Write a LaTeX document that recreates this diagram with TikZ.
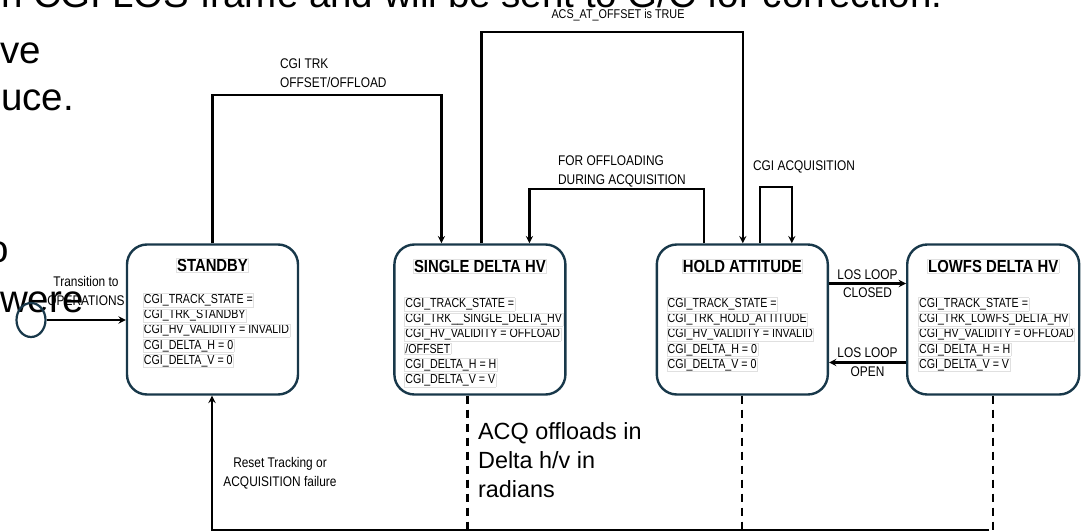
\documentclass[tikz,border=0pt]{standalone}
\usepackage{fontspec}
\setmainfont{Liberation Sans}
\newfontfamily\narrowfont{Liberation Sans}[FakeStretch=0.85]
\newfontfamily\bodyfont{Liberation Sans}[FakeStretch=0.82]
\usepackage{xcolor}
\usetikzlibrary{positioning,shapes,arrows,calc}
\definecolor{boxline}{RGB}{24,56,74}
\newcommand{\fld}[1]{{\setlength{\fboxsep}{0.6pt}\setlength{\fboxrule}{0.4pt}\fcolorbox{black!12}{white}{#1}}}
\tikzset{%
	state/.style   = {draw=boxline, rectangle, rounded corners=20pt, line width=2.4pt,
		minimum width=171pt, minimum height=150pt},
	title/.style   = {font=\narrowfont\bfseries\fontsize{17.5}{19}\selectfont, inner sep=0pt},
	body/.style    = {font=\bodyfont\fontsize{13}{15.2}\selectfont, align=left, inner sep=0pt},
	lbl/.style     = {font=\narrowfont\fontsize{14}{19}\selectfont, inner sep=1pt},
	note/.style    = {font=\fontsize{23.4}{29}\selectfont, align=left, inner sep=0pt},
	slide/.style   = {font=\fontsize{38.5}{47}\selectfont, inner sep=0pt}
}

\begin{document}
\begin{tikzpicture}[x=1pt, y=-1pt, line width=2.2pt, >=stealth, auto]
	\useasboundingbox (0,0) rectangle (1089,530);
	\clip (0,0) rectangle (1089,530);
	% slide text behind the chart
	\node[slide, anchor=base west] (bga) at (0,8) {n CGI LOS frame and will be sent to G/C for correction.};
	\node[slide, anchor=base west] (bgb) at (-1,63) {ve};
	\node[slide, anchor=base west] (bgc) at (0,110) {uce.};
	\node[slide, anchor=base west] (bgd) at (-14,262) {o};
	\node[slide, anchor=base west] (bge) at (-1,312) {were};

	\draw
		node at (212.5,319.5)[state, name=standby]{}
		node [state, right=94pt of standby] (single) {}
		node [state, right=89pt of single] (hold) {}
		node [state, right=77pt of hold, minimum width=172pt] (lowfs) {};

	\node[title] (standbyt) at ([yshift=-22pt]standby.north) {\fld{STANDBY}};
	\node[title] (singlet) at ([yshift=-23pt]single.north) {\fld{SINGLE DELTA HV}};
	\node[title] (holdt) at ([yshift=-23pt]hold.north) {\fld{HOLD ATTITUDE}};
	\node[title] (lowfst) at ([yshift=-23pt]lowfs.north) {\fld{LOWFS DELTA HV}};

	\node[body, anchor=north west] (standbyb) at ([xshift=16pt,yshift=-49pt]standby.north west)
		{\fld{CGI\_TRACK\_STATE =}\\\fld{CGI\_TRK\_STANDBY}\\\fld{CGI\_HV\_VALIDITY = INVALID}\\\fld{CGI\_DELTA\_H = 0}\\\fld{CGI\_DELTA\_V = 0}};
	\node[body, anchor=north west] (singleb) at ([xshift=10pt,yshift=-53pt]single.north west)
		{\fld{CGI\_TRACK\_STATE =}\\\fld{CGI\_TRK\_\_SINGLE\_DELTA\_HV}\\\fld{CGI\_HV\_VALIDITY = OFFLOAD}\\\fld{/OFFSET}\\\fld{CGI\_DELTA\_H = H}\\\fld{CGI\_DELTA\_V = V}};
	\node[body, anchor=north west] (holdb) at ([xshift=10pt,yshift=-53pt]hold.north west)
		{\fld{CGI\_TRACK\_STATE =}\\\fld{CGI\_TRK\_HOLD\_ATTITUDE}\\\fld{CGI\_HV\_VALIDITY = INVALID}\\\fld{CGI\_DELTA\_H = 0}\\\fld{CGI\_DELTA\_V = 0}};
	\node[body, anchor=north west] (lowfsb) at ([xshift=11pt,yshift=-53pt]lowfs.north west)
		{\fld{CGI\_TRACK\_STATE =}\\\fld{CGI\_TRK\_LOWFS\_DELTA\_HV}\\\fld{CGI\_HV\_VALIDITY = OFFLOAD}\\\fld{CGI\_DELTA\_H = H}\\\fld{CGI\_DELTA\_V = V}};

	% start state
	\node[draw=boxline, ellipse, minimum width=29pt, minimum height=34pt, inner sep=0pt] (init) at (31,320) {};
	\draw[->] (init) -- (init -| standby.west);
	\node[lbl, align=center] (initl) at (86,290.5) {Transition to\\OPERATIONS};

	% transitions over the top
	\draw[->] (standby.north) -- ++(0,-148) -| ([xshift=-38.5pt]single.north);
	\node[lbl, align=left, anchor=west] (trkl) at (278,73) {CGI TRK\\OFFSET/OFFLOAD};

	\draw[->] ([xshift=1.5pt]single.north) -- ++(0,-211) -| ([xshift=0.5pt]hold.north);
	\node[lbl, font=\narrowfont\fontsize{12.7}{15}\selectfont] (acsl) at (618,15) {ACS\_AT\_OFFSET is TRUE};

	\draw[->] ([xshift=-38.5pt]hold.north) -- ++(0,-54) -| ([xshift=49.5pt]single.north);
	\node[lbl, align=left, anchor=west] (offl) at (556,171.5) {FOR OFFLOADING\\DURING ACQUISITION};

	\draw[->] ([xshift=17.5pt]hold.north) -- ++(0,-56) -| ([xshift=49.5pt]hold.north);
	\node[lbl, anchor=west] (acql) at (751,167) {CGI ACQUISITION};

	% LOS loop
	\draw[->] ([yshift=36pt]hold.east) -- node[lbl, above=2pt] {LOS LOOP} node[lbl, below=2pt] {CLOSED} ([yshift=36pt]lowfs.west);
	\draw[->] ([yshift=-43pt]lowfs.west) -- node[lbl, above=3pt] {LOS LOOP} node[lbl, below=2pt] {OPEN} ([yshift=-43pt]hold.east);

	% back to standby
	\draw[dashed, dash pattern=on 8pt off 6pt] ([xshift=-12.5pt]single.south) -- ++(0,134) coordinate (singled);
	\draw[dashed, dash pattern=on 8pt off 6pt] (hold.south) -- ++(0,134) coordinate (holdd);
	\draw[dashed, dash pattern=on 8pt off 6pt] (lowfs.south) -- ++(0,134) coordinate (lowfsd);
	\draw[->] ([xshift=-4pt]lowfsd) -| ([xshift=-0.5pt]standby.south);
	\node[lbl, align=center] (resetl) at (280,473) {Reset Tracking or\\ACQUISITION failure};

	\node[note, anchor=north west] (acqnote) at (477,421) {ACQ offloads in\\Delta h/v in\\radians};
\end{tikzpicture}
\end{document}
